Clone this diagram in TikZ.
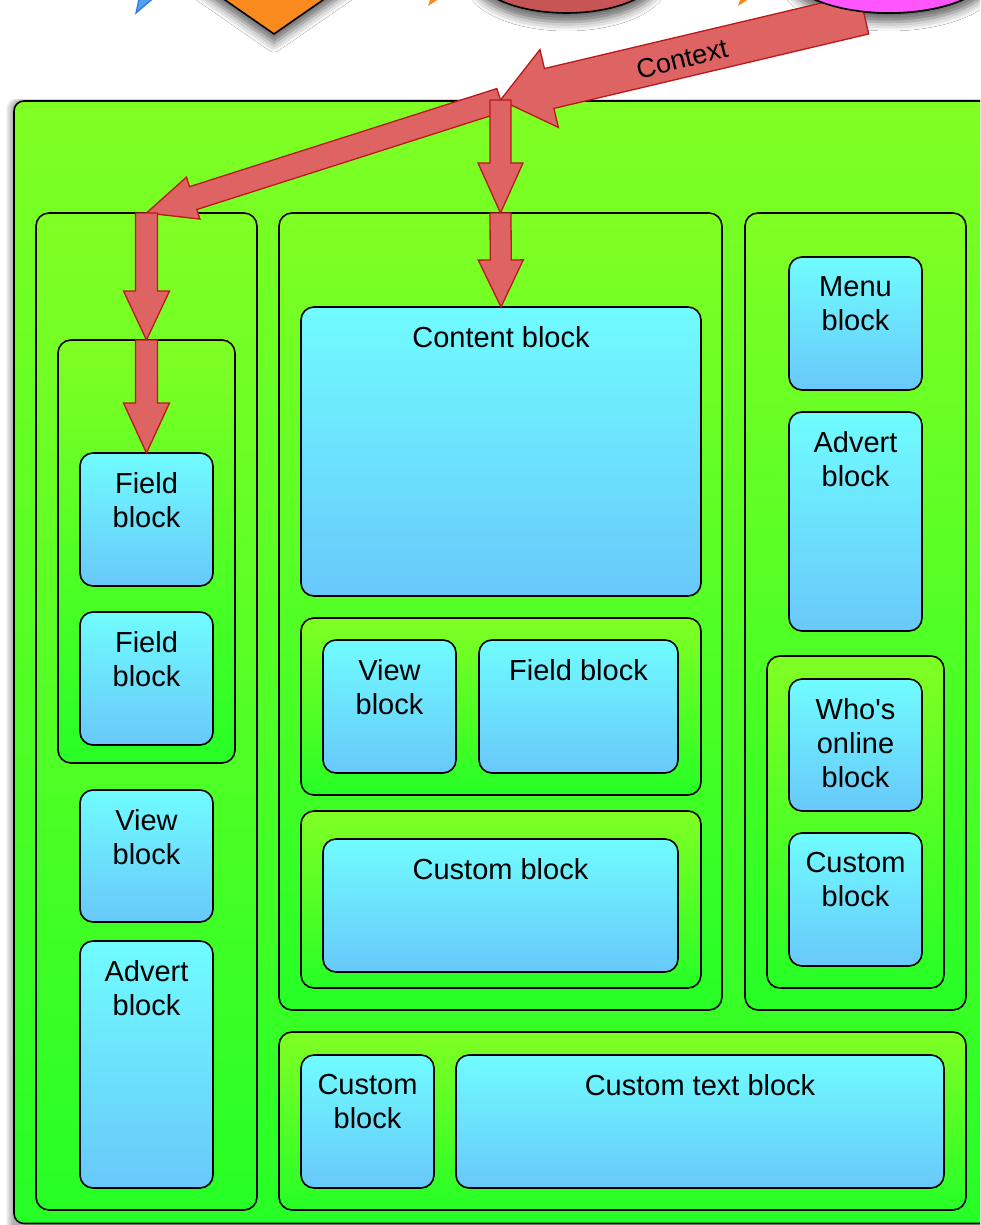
\documentclass[tikz,border=0pt]{standalone}
\usepackage{fontspec}
\newfontfamily\lbfont{Liberation Sans}
\usetikzlibrary{calc,shadows.blur}
\definecolor{limetop}{RGB}{128,255,36}
\definecolor{greenbot}{RGB}{38,255,38}
\definecolor{cyantop}{RGB}{112,252,255}
\definecolor{bluebot}{RGB}{104,200,250}
\definecolor{arrowfill}{RGB}{222,100,100}
\definecolor{arrowline}{RGB}{185,25,25}
\definecolor{dorange}{RGB}{249,138,30}
\definecolor{brownred}{RGB}{200,85,85}
\definecolor{pinkm}{RGB}{255,85,255}
\definecolor{blueshape}{RGB}{80,160,240}
\definecolor{blueline}{RGB}{40,120,220}
\tikzset{
  greenbox/.style={draw=black, line width=1.6pt, rounded corners=13pt,
    top color=limetop, bottom color=greenbot, inner sep=0pt, outer sep=0pt, anchor=north west},
  bluebox/.style={draw=black, line width=1.6pt, rounded corners=13pt,
    top color=cyantop, bottom color=bluebot, inner sep=0pt, outer sep=0pt, anchor=north west},
  lbl/.style={font=\lbfont\fontsize{29}{34}\selectfont, align=center, anchor=north, inner sep=0pt},
  fatarrow/.style={fill=arrowfill, draw=arrowline, line width=1.3pt, line join=miter},
  topshadow/.style={blur shadow={shadow xshift=0pt, shadow yshift=-9pt, shadow blur radius=9pt, shadow opacity=60}},
}
% from, to, half shaft, half head, head length
\newcommand{\fatarr}[5]{%
  \filldraw[fatarrow] (#2) -- ($(#2)!#5!(#1)!#4!90:(#1)$) -- ($(#2)!#5!(#1)!#3!90:(#1)$)
    -- ($(#1)!#3!-90:(#2)$) -- ($(#1)!#3!90:(#2)$)
    -- ($(#2)!#5!(#1)!#3!-90:(#1)$) -- ($(#2)!#5!(#1)!#4!-90:(#1)$) -- cycle;}
\begin{document}
\begin{tikzpicture}[x=1pt, y=-1pt]
\useasboundingbox (0,0) rectangle (980,1225);
\clip (0,0) rectangle (980,1225);
\fill[white] (0,0) rectangle (980,1225);

% cut-off shapes at the top
\filldraw[fill=blueshape, draw=blueline, line width=1.2pt] (136,13) -- (141,-10) -- (163,-10) -- cycle;
\filldraw[fill=dorange, draw=black, line width=1.6pt, topshadow] (274,34) -- (176,-34) -- (274,-102) -- (372,-34) -- cycle;
\fill[dorange] (428,6) -- (431,-3) -- (442,-3) -- cycle;
\filldraw[fill=brownred, draw=black, line width=1.6pt, topshadow] (566.5,-30) ellipse [x radius=94, y radius=43];
\fill[dorange] (738,6) -- (741,-3) -- (752,-3) -- cycle;
\filldraw[fill=pinkm, draw=black, line width=1.6pt, topshadow] (889,-30) ellipse [x radius=102, y radius=43];

% soft shadow of the outer container
\foreach \s in {1,...,8}
  \fill[black, opacity=0.045, rounded corners=10pt] (14-\s,101-0.3*\s) rectangle (1100,1240);
% outer container (runs past the right edge of the picture)
\path[draw=black, line width=1.6pt, rounded corners=10pt, top color=limetop, bottom color=greenbot]
  (14,101) rectangle (1100,1223.5);
\coordinate (outerNW) at (14,101);

% left column
\node[greenbox, minimum width=221pt, minimum height=997pt] (leftcol) at (36,213) {};
\node[greenbox, minimum width=177pt, minimum height=423pt] (leftin) at (58,340) {};
\node[bluebox, minimum width=133pt, minimum height=133pt] (fb1) at (80,453) {};
\node[bluebox, minimum width=133pt, minimum height=133pt] (fb2) at (80,612) {};
\node[bluebox, minimum width=133pt, minimum height=132pt] (vb1) at (80,790) {};
\node[bluebox, minimum width=133pt, minimum height=247pt] (ab1) at (80,941) {};

% middle column
\node[greenbox, minimum width=443pt, minimum height=797pt] (midcol) at (279,213) {};
\node[bluebox, minimum width=400pt, minimum height=289pt] (content) at (301,307) {};
\node[greenbox, minimum width=400pt, minimum height=177pt] (sub1) at (301,618) {};
\node[bluebox, minimum width=133pt, minimum height=133pt] (vb2) at (323,640) {};
\node[bluebox, minimum width=199pt, minimum height=133pt] (fb3) at (479,640) {};
\node[greenbox, minimum width=400pt, minimum height=177pt] (sub2) at (301,811) {};
\node[bluebox, minimum width=355pt, minimum height=133pt] (cb1) at (323,839) {};

% right column
\node[greenbox, minimum width=221pt, minimum height=797pt] (rightcol) at (745,213) {};
\node[bluebox, minimum width=133pt, minimum height=133pt] (menu) at (789,257) {};
\node[bluebox, minimum width=133pt, minimum height=219pt] (ab2) at (789,412) {};
\node[greenbox, minimum width=177pt, minimum height=332pt] (rsub) at (767,656) {};
\node[bluebox, minimum width=133pt, minimum height=132pt] (who) at (789,679) {};
\node[bluebox, minimum width=133pt, minimum height=133pt] (cb2) at (789,833) {};

% bottom row
\node[greenbox, minimum width=687pt, minimum height=178pt] (bot) at (279,1032) {};
\node[bluebox, minimum width=133pt, minimum height=133pt] (cb3) at (301,1055) {};
\node[bluebox, minimum width=488pt, minimum height=133pt] (ctb) at (456,1055) {};

% labels
\node[lbl] (t-fb1) at ($(fb1.north)+(0,19)$) {Field\\block};
\node[lbl] (t-fb2) at ($(fb2.north)+(0,19)$) {Field\\block};
\node[lbl] (t-vb1) at ($(vb1.north)+(0,19)$) {View\\block};
\node[lbl] (t-ab1) at ($(ab1.north)+(0,19)$) {Advert\\block};
\node[lbl] (t-content) at ($(content.north)+(0,19)$) {Content block};
\node[lbl] (t-vb2) at ($(vb2.north)+(0,19)$) {View\\block};
\node[lbl] (t-fb3) at ($(fb3.north)+(0,19)$) {Field block};
\node[lbl] (t-cb1) at ($(cb1.north)+(0,19)$) {Custom block};
\node[lbl] (t-menu) at ($(menu.north)+(0,19)$) {Menu\\block};
\node[lbl] (t-ab2) at ($(ab2.north)+(0,19)$) {Advert\\block};
\node[lbl] (t-who) at ($(who.north)+(0,19)$) {Who's\\online\\block};
\node[lbl] (t-cb2) at ($(cb2.north)+(0,19)$) {Custom\\block};
\node[lbl] (t-cb3) at ($(cb3.north)+(0,19)$) {Custom\\block};
\node[lbl] (t-ctb) at ($(ctb.north)+(0,19)$) {Custom text block};

% arrows
\coordinate (hub) at (500.5,100);
\coordinate (ctxtail) at (864,14);
\fatarr{ctxtail}{hub}{20.5pt}{40pt}{50pt}
\filldraw[fill=pinkm, draw=black, line width=1.6pt] (889,-30) ellipse [x radius=102, y radius=43];
\node[font=\lbfont\fontsize{27}{32}\selectfont, rotate=14, inner sep=0pt] (ctxlabel) at (682,59) {Context};

\fatarr{hub}{leftcol.north}{12pt}{22pt}{49pt}
\fatarr{hub}{midcol.north}{10.5pt}{22.5pt}{50pt}
\fatarr{midcol.north}{content.north}{10.5pt}{22.5pt}{47pt}
\fatarr{leftcol.north}{leftin.north}{11pt}{23pt}{49pt}
\fatarr{leftin.north}{fb1.north}{11pt}{23pt}{50pt}
\end{tikzpicture}
\end{document}
